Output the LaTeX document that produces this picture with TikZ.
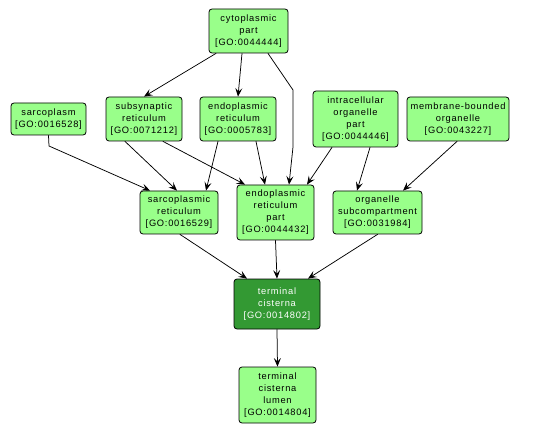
\documentclass[tikz,border=0pt]{standalone}
\usepackage{fontspec}
\setmainfont{Liberation Sans}[LetterSpace=8]
\usetikzlibrary{arrows.meta}

\definecolor{golight}{RGB}{153,255,138}
\definecolor{godark}{RGB}{51,153,51}

\begin{document}
\begin{tikzpicture}[
    x=1pt, y=-1pt, >=Stealth, line cap=round,
    goterm/.style    ={draw=black, line width=0.8pt, fill=golight, rounded corners=3pt, align=center, inner sep=0pt, font=\fontsize{9.3}{12}\selectfont},
    gotermdark/.style={goterm, fill=godark, text=white},
    isa/.style       ={draw=black, line width=0.75pt, -{Stealth[length=8.5pt, width=7pt, inset=3.5pt]}}
]
\useasboundingbox (0,0) rectangle (536,433);

% top level
\node[goterm, minimum width=79, minimum height=44] (cyto) at (248.5,31) {cytoplasmic\\part\\{[GO:0044444]}};

% second row
\node[goterm, minimum width=75, minimum height=32] (sarcoplasm) at (48.5,119) {sarcoplasm\\{[GO:0016528]}};
\node[goterm, minimum width=76, minimum height=44] (subsyn) at (144,119) {subsynaptic\\reticulum\\{[GO:0071212]}};
\node[goterm, minimum width=76, minimum height=44] (er) at (238,119) {endoplasmic\\reticulum\\{[GO:0005783]}};
\node[goterm, minimum width=85, minimum height=56] (icpart) at (355.5,119) {intracellular\\organelle\\part\\{[GO:0044446]}};
\node[goterm, minimum width=102, minimum height=44] (membound) at (458,119) {membrane-bounded\\organelle\\{[GO:0043227]}};

% third row
\node[goterm, minimum width=78, minimum height=43] (sarcoret) at (179,212.5) {sarcoplasmic\\reticulum\\{[GO:0016529]}};
\node[goterm, minimum width=77, minimum height=55] (erpart) at (275.5,212.5) {endoplasmic\\reticulum\\part\\{[GO:0044432]}};
\node[goterm, minimum width=89, minimum height=43] (orgsub) at (377.5,212.5) {organelle\\subcompartment\\{[GO:0031984]}};

% bottom
\node[gotermdark, minimum width=86, minimum height=50] (termcist) at (277,304) {terminal\\cisterna\\{[GO:0014802]}};
\node[goterm, minimum width=77, minimum height=56] (lumen) at (277.5,395) {terminal\\cisterna\\lumen\\{[GO:0014804]}};

% bend points
\coordinate (bendA) at (293,90);
\coordinate (bendB) at (293,147);
\coordinate (bendC) at (49,146);

% edges
\draw[isa] ([xshift=-32.5]cyto.south) -- (subsyn.north);
\draw[isa] ([xshift=-6.5]cyto.south) -- (er.north);
\draw[isa] ([xshift=19.5]cyto.south) -- (bendA) -- (bendB) -- ([xshift=13.5]erpart.north);
\draw[isa] (sarcoplasm.south) -- (bendC) -- ([xshift=-29]sarcoret.north);
\draw[isa] ([xshift=-19]subsyn.south) -- ([xshift=-2]sarcoret.north);
\draw[isa] ([xshift=19]subsyn.south) -- ([xshift=-30.5]erpart.north);
\draw[isa] ([xshift=-20]er.south) -- ([xshift=27]sarcoret.north);
\draw[isa] ([xshift=18]er.south) -- ([xshift=-10.5]erpart.north);
\draw[isa] ([xshift=-23.5]icpart.south) -- ([xshift=31.5]erpart.north);
\draw[isa] ([xshift=14.5]icpart.south) -- ([xshift=-20.5]orgsub.north);
\draw[isa] ([xshift=-1]membound.south) -- ([xshift=25.5]orgsub.north);
\draw[isa] ([xshift=1]sarcoret.south) -- ([xshift=-30]termcist.north);
\draw[isa] (erpart.south) -- (termcist.north);
\draw[isa] (orgsub.south) -- ([xshift=31]termcist.north);
\draw[isa] (termcist.south) -- (lumen.north);
\end{tikzpicture}
\end{document}
